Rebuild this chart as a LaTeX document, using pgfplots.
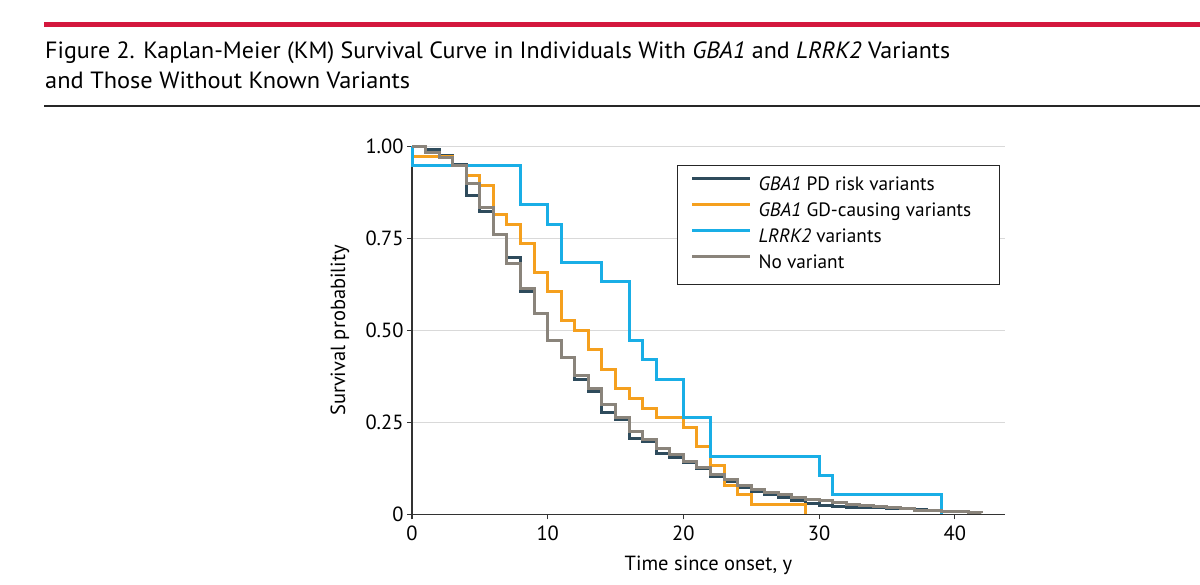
\documentclass[border=0pt]{standalone}
\usepackage{pgfplots}
\pgfplotsset{compat=1.18}
\usepackage{fontspec}
\setmainfont{PT Sans}
\definecolor{cDark}{HTML}{2E4B5C}
\definecolor{cOrange}{HTML}{F5A01E}
\definecolor{cBlue}{HTML}{19AEE6}
\definecolor{cGray}{HTML}{8A847B}
\definecolor{cRed}{HTML}{D4173D}
\definecolor{cGrid}{HTML}{D9D9D9}
\begin{document}
\begin{tikzpicture}[x=1pt,y=1pt]
\useasboundingbox (0,0) rectangle (1200,585);
\fill[cRed] (44,558) rectangle (1200,563);
\draw[black!85, line width=2pt] (44,479) -- (1200,479);
\node[anchor=base west, inner sep=0pt] at (45,526.7) {\resizebox{905pt}{\height}{\fontsize{23.5}{27}\selectfont Figure 2. Kaplan-Meier (KM) Survival Curve in Individuals With \textit{GBA1} and \textit{LRRK2} Variants}};
\node[anchor=base west, inner sep=0pt] at (45,496) {\resizebox{365pt}{\height}{\fontsize{23.5}{27}\selectfont and Those Without Known Variants}};
\begin{axis}[
  at={(412pt,70.5pt)}, anchor=south west,
  scale only axis, width=593pt, height=368pt,
  xmin=0, xmax=43.7, ymin=0, ymax=1,
  axis x line=bottom, axis y line=left,
  axis line style={-, black!80, line width=1.2pt},
  xtick={0,10,20,30,40},
  ytick={0,0.25,0.5,0.75,1},
  yticklabels={0,0.25,0.50,0.75,1.00},
  ymajorgrids, grid style={cGrid, line width=1.2pt},
  tick align=outside, major tick length=5pt,
  tick style={black!80, line width=1.2pt},
  /pgf/number format/assume math mode=true,
  tick label style={font=\fontsize{20.5}{22}\selectfont},
  xticklabel style={yshift=-3pt},
  label style={font=\fontsize{20.5}{22}\selectfont},
  xlabel={Time since onset, y},
  ylabel={Survival probability},
  xlabel style={at={(axis description cs:0.5,-0.137)}, anchor=center},
  ylabel style={at={(axis description cs:-0.1214,0.5)}, anchor=center},
  clip=false,
  every axis plot/.append style={const plot mark left, line width=3pt, mark=none},
  legend image code/.code={\draw[#1] (0pt,7pt) -- (58pt,7pt);},
  legend style={at={(rel axis cs:0.447,0.950)}, anchor=north west,
    draw=black!85, line width=1pt, fill=white,
    inner xsep=13pt, inner ysep=10.5pt,
    row sep=6pt, column sep=7pt,
    font=\fontsize{19.3}{21}\selectfont,
    nodes={inner sep=0pt, text height=15pt, text depth=5pt}},
  legend cell align=left,
]
\addplot[cDark] coordinates {(0,1)(1,0.993)(2,0.975)(3,0.950)(4,0.866)(5,0.823)(6,0.760)(7,0.697)(8,0.606)(9,0.545)(10,0.474)(11,0.426)(12,0.366)(13,0.334)(14,0.277)(15,0.259)(16,0.207)(17,0.198)(18,0.166)(19,0.155)(20,0.142)(21,0.126)(22,0.103)(23,0.090)(24,0.072)(25,0.062)(26,0.053)(27,0.045)(28,0.038)(29,0.031)(30,0.024)(31,0.022)(32,0.020)(33,0.019)(34,0.018)(35,0.016)(36,0.015)(37,0.014)(38,0.014)};
\addlegendentry{\makebox[228pt][l]{\textit{GBA1} PD risk variants}}
\addplot[cOrange] coordinates {(0,1)(0,0.974)(3,0.947)(4,0.921)(5,0.895)(6,0.816)(7,0.789)(8,0.737)(9,0.658)(10,0.605)(11,0.526)(12,0.5)(13,0.447)(14,0.395)(15,0.342)(16,0.316)(17,0.289)(18,0.263)(20,0.237)(21,0.184)(22,0.132)(23,0.079)(24,0.053)(25,0.026)(29,0)};
\addlegendentry{\makebox[228pt][l]{\textit{GBA1} GD-causing variants}}
\addplot[cBlue] coordinates {(0,1)(0,0.947)(8,0.842)(10,0.789)(11,0.684)(14,0.632)(16,0.474)(17,0.421)(18,0.368)(20,0.263)(22,0.158)(30,0.105)(31,0.053)(39,0)};
\addlegendentry{\makebox[228pt][l]{\textit{LRRK2} variants}}
\addplot[cGray] coordinates {(0,1)(1,0.985)(2,0.971)(3,0.947)(4,0.900)(5,0.833)(6,0.760)(7,0.681)(8,0.615)(9,0.545)(10,0.474)(11,0.426)(12,0.377)(13,0.343)(14,0.298)(15,0.264)(16,0.225)(17,0.203)(18,0.178)(19,0.162)(20,0.144)(21,0.128)(22,0.110)(23,0.094)(24,0.078)(25,0.068)(26,0.060)(27,0.053)(28,0.047)(29,0.042)(30,0.037)(31,0.032)(32,0.028)(33,0.025)(34,0.021)(35,0.018)(36,0.015)(37,0.012)(38,0.010)(39,0.008)(40,0.007)(41,0.006)(42,0.005)};
\addlegendentry{\makebox[228pt][l]{No variant}}
\end{axis}
\end{tikzpicture}
\end{document}
